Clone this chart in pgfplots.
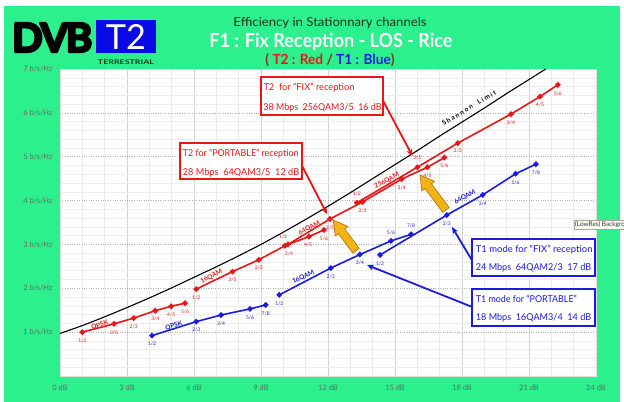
\documentclass[border=0pt]{standalone}
\usepackage{pgfplots}
\pgfplotsset{compat=1.18}
\usepackage{fontspec}
\setmainfont{Lato}
\usetikzlibrary{arrows.meta}
\definecolor{bggreen}{RGB}{44,240,140}
\definecolor{tred}{RGB}{232,22,22}
\definecolor{tblue}{RGB}{28,28,222}
\definecolor{logoblue}{RGB}{10,10,230}
\definecolor{gold}{RGB}{245,178,20}
\definecolor{goldline}{RGB}{170,110,10}
\definecolor{ticklab}{RGB}{95,110,100}
\definecolor{titledark}{RGB}{30,50,30}
\definecolor{darkred}{RGB}{150,40,20}
\newcommand{\dvblogo}{\resizebox{80bp}{29bp}{\special{pdf:literal direct 2 Tr 0.6 w 1 j}\bfseries D\kern-0.06em V\kern-0.06em B\special{pdf:literal direct 0 Tr}}}
\pgfplotsset{
  ratelab/.style={
    nodes near coords, point meta=explicit symbolic,
    visualization depends on={value \thisrow{dx}\as\mydx},
    visualization depends on={value \thisrow{dy}\as\mydy},
    every node near coord/.append style={anchor=center, inner sep=0pt,
      xshift=\mydx bp, yshift=\mydy bp, font=\fontsize{5}{5}\selectfont},
  },
  t2/.style={tred, line width=1.6bp, mark=*, mark size=1.9bp,
    mark options={fill=tred, draw=tred, solid}, ratelab},
  t1/.style={tblue, line width=1.6bp, mark=*, mark size=1.9bp,
    mark options={fill=tblue, draw=tblue, solid}, ratelab},
}
\begin{document}
\begin{tikzpicture}
\begin{scope}[x=1bp,y=1bp]
\fill[white] (0,0) rectangle (624,402);
\fill[bggreen] (4,0) rectangle (620,396);
\end{scope}
\begin{axis}[
  at={(60bp,26bp)}, anchor=south west, scale only axis,
  width=536bp, height=307bp,
  xmin=0, xmax=24, ymin=0, ymax=7,
  xtick={0,3,...,24}, ytick={0,1,...,7},
  xticklabels={0 dB,3 dB,6 dB,9 dB,12 dB,15 dB,18 dB,21 dB,24 dB},
  yticklabels={,1 b/s/Hz,2 b/s/Hz,3 b/s/Hz,4 b/s/Hz,5 b/s/Hz,6 b/s/Hz,7 b/s/Hz},
  minor x tick num=2, minor y tick num=4,
  grid=both,
  major x grid style={draw=gray!35, line width=0.7bp},
  major y grid style={draw=gray!60, dotted, line width=0.7bp},
  minor grid style={draw=gray!15, line width=0.5bp},
  major tick length=0pt, minor tick length=0pt,
  axis line style={draw=gray!25},
  axis background/.style={fill=white},
  tick label style={font=\fontsize{7.5}{8}\selectfont, text=ticklab},
  xticklabel style={yshift=-5bp},
  yticklabel style={xshift=-4bp},
  clip=false,
]
% Shannon limit
\addplot[black, line width=1.1bp, smooth, no marks] coordinates {
(0,0.97) (1,1.15) (2,1.35) (3,1.56) (4,1.78) (5,2.01) (6,2.25) (7,2.49)
(8,2.74) (9,3.00) (10,3.28) (11,3.57) (12,3.87) (13,4.18) (14,4.50)
(15,4.82) (16,5.14) (17,5.47) (18,5.79) (19,6.11) (20,6.44) (21,6.76) (21.75,7.0)};
% T1 (blue)
\addplot[t1] table[meta=l] {
x y l dx dy
4.12 0.92 1/2 0 -8.5
6.10 1.24 2/3 0 -8.5
7.21 1.39 3/4 0 -8.5
8.51 1.53 5/6 0 -8.5
9.21 1.62 7/8 0 -8.5
};
\addplot[t1] table[meta=l] {
x y l dx dy
9.82 1.85 1/2 0 -8.5
12.12 2.46 2/3 0 -8.5
13.43 2.77 3/4 0 -8.5
14.82 3.08 5/6 0 8.5
15.72 3.23 7/8 0 8.5
};
\addplot[t1] table[meta=l] {
x y l dx dy
14.33 2.76 1/2 0 -8.5
17.32 3.67 2/3 0 -8.5
18.93 4.13 3/4 0 -8.5
20.40 4.61 5/6 0 -8.5
21.31 4.83 7/8 0 -8.5
};
% T2 (red)
\addplot[t2] table[meta=l] {
x y l dx dy
1.00 1.00 1/2 0 -8.5
2.42 1.19 3/5 0 -8.5
3.30 1.32 2/3 0 -8.5
4.27 1.49 3/4 0 -8.5
4.98 1.59 4/5 0 -8.5
5.60 1.66 5/6 0 -8.5
};
\addplot[t2] table[meta=l] {
x y l dx dy
6.10 1.98 1/2 0 -8.5
7.72 2.38 3/5 0 -8.5
8.90 2.65 2/3 0 -8.5
10.07 2.97 3/4 4 -8.5
11.15 3.18 4/5 -1 -8.5
11.82 3.33 5/6 0 -8.5
};
\addplot[t2] table[meta=l] {
x y l dx dy
10.21 3.00 1/2 -5 8
12.09 3.58 3/5 0 -8.5
13.55 3.97 2/3 0 -8.5
15.30 4.49 3/4 0 -8.5
16.45 4.76 4/5 0 -8.5
17.21 4.98 5/6 0 -8.5
};
\addplot[t2] table[meta=l] {
x y l dx dy
13.29 3.95 1/2 0 9
16.00 4.76 3/5 0 9
17.81 5.31 2/3 0 -8
20.19 5.97 3/4 0 -8.5
21.49 6.37 4/5 0 -8.5
22.29 6.64 5/6 0 -8.5
};
\end{axis}
\begin{scope}[x=1bp,y=-1bp,yshift=402bp]
% header
\node[anchor=west, inner sep=0pt] at (12,37.5) {\dvblogo};
\fill[logoblue] (96,20) rectangle (156,53);
\node[inner sep=0pt, text=white] at (126,37) {\resizebox{40bp}{25bp}{T2}};
\node[inner sep=0pt, text=titledark] at (126,62) {\resizebox{56bp}{\height}{\fontsize{6.5}{7}\selectfont\bfseries TERRESTRIAL}};
\node[inner sep=0pt, text=titledark] at (330,23) {\resizebox{193bp}{\height}{\fontsize{12.5}{13}\selectfont Efficiency in Stationnary channels}};
\node[inner sep=0pt, text=white] at (331,42) {\resizebox{243bp}{\height}{\fontsize{19.5}{20}\selectfont\bfseries F1 : Fix Reception - LOS - Rice}};
\node[inner sep=0pt] at (330,60) {\resizebox{129bp}{\height}{\fontsize{14}{15}\selectfont\bfseries\textcolor{darkred}{(} \textcolor{tred}{T2 : Red} \textcolor{darkred}{/} \textcolor{tblue}{T1 : Blue}\textcolor{darkred}{)}}};
% Shannon label
\node[rotate=31, inner sep=0pt, font=\fontsize{6.5}{6.5}\selectfont\bfseries] at (469,108) {S h a n n o n \ \ \ L i m i t};
% modulation labels
\begin{scope}[every node/.style={inner sep=0pt, font=\fontsize{6.5}{7}\selectfont\bfseries}]
\node[text=tred, rotate=18] at (99.7,325.3) {QPSK};
\node[text=tred, rotate=27] at (211.3,276.7) {16QAM};
\node[text=tred, rotate=30] at (309.3,228.3) {64QAM};
\node[text=tred, rotate=28] at (386.7,180.7) {256QAM};
\node[text=tblue, rotate=17] at (173.7,326) {QPSK};
\node[text=tblue, rotate=25] at (303.3,277.3) {16QAM};
\node[text=tblue, rotate=30] at (465,197.3) {64QAM};
\end{scope}
% gold arrows
\filldraw[fill=gold, draw=goldline, line width=0.6bp] (359.2,248.3) -- (344.8,228.9) -- (348.0,226.5) -- (333.3,220) -- (335.2,236.1) -- (338.4,233.7) -- (352.8,253.1) -- cycle;
\filldraw[fill=gold, draw=goldline, line width=0.6bp] (449.2,207.6) -- (431.5,183.8) -- (434.7,181.4) -- (420,175) -- (421.9,191.0) -- (425.1,188.6) -- (442.8,212.4) -- cycle;
% pointer arrows
\draw[tred, line width=1.8bp, -{Stealth[length=7bp,width=6bp]}] (380,95) -- (412.5,156);
\draw[tred, line width=1.8bp, -{Stealth[length=7bp,width=6bp]}] (299,160) -- (327,214);
\draw[tblue, line width=1.8bp, -{Stealth[length=7bp,width=6bp]}] (473,262) -- (452,227);
\draw[tblue, line width=1.8bp, -{Stealth[length=7bp,width=6bp]}] (473,307.3) -- (367,265);
% boxes
\draw[tred, line width=2bp, fill=white] (260.7,76.7) rectangle (383.3,115);
\node[anchor=west, inner sep=0pt, text=tred] at (263.3,87.7) {\resizebox{91bp}{\height}{\fontsize{9.5}{10}\selectfont T2\ \ for “FIX” reception}};
\node[anchor=west, inner sep=0pt, text=tred] at (263.3,108.3) {\resizebox{118bp}{\height}{\fontsize{9.5}{10}\selectfont 38 Mbps\ \ 256QAM3/5\ \ 16 dB}};
\draw[tred, line width=2bp, fill=white] (180,143.3) rectangle (301.7,179.3);
\node[anchor=west, inner sep=0pt, text=tred] at (182.7,153.3) {\resizebox{115.6bp}{\height}{\fontsize{9.5}{10}\selectfont T2 for “PORTABLE” reception}};
\node[anchor=west, inner sep=0pt, text=tred] at (182.7,172.7) {\resizebox{116.3bp}{\height}{\fontsize{9.5}{10}\selectfont 28 Mbps\ \ 64QAM3/5\ \ 12 dB}};
\draw[tblue, line width=2bp, fill=white] (472.3,239.3) rectangle (595,276);
\node[anchor=west, inner sep=0pt, text=tblue] at (475.7,249.3) {\resizebox{116.6bp}{\height}{\fontsize{9.5}{10}\selectfont T1 mode for “FIX” reception}};
\node[anchor=west, inner sep=0pt, text=tblue] at (475.7,268.3) {\resizebox{115.3bp}{\height}{\fontsize{9.5}{10}\selectfont 24 Mbps\ \ 64QAM2/3\ \ 17 dB}};
\draw[tblue, line width=2bp, fill=white] (472.3,289.3) rectangle (595,326);
\node[anchor=west, inner sep=0pt, text=tblue] at (475.7,299.3) {\resizebox{101bp}{\height}{\fontsize{9.5}{10}\selectfont T1 mode for “PORTABLE”}};
\node[anchor=west, inner sep=0pt, text=tblue] at (475.7,317.7) {\resizebox{115.3bp}{\height}{\fontsize{9.5}{10}\selectfont 18 Mbps\ \ 16QAM3/4\ \ 14 dB}};
% tooltip artefact
\node[anchor=west, draw=gray!70, fill=yellow!4, inner sep=1.5bp, text=gray!40!black, font=\fontsize{6.5}{7}\selectfont] at (573.5,225) {(LowRes) Background};
\end{scope}
\pgfresetboundingbox
\useasboundingbox (0,0) rectangle (624bp,402bp);
\end{tikzpicture}
\end{document}
